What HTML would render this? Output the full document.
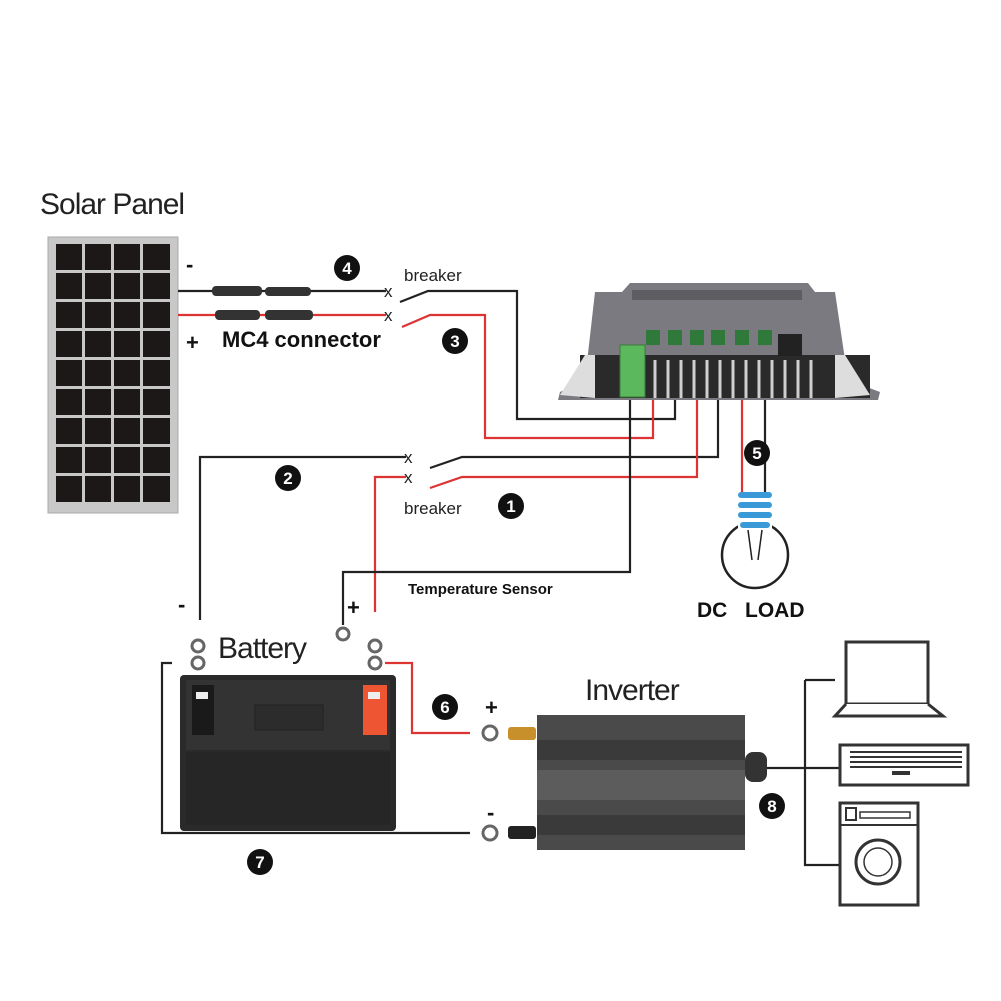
<!DOCTYPE html>
<html><head><meta charset="utf-8"><style>
html,body{margin:0;padding:0;background:#fff;}
svg{display:block;font-family:"Liberation Sans",sans-serif;}
</style></head><body>
<svg width="1001" height="1001" viewBox="0 0 1001 1001" xmlns="http://www.w3.org/2000/svg">
<rect width="1001" height="1001" fill="#fff"/>
<text x="40" y="214" font-size="30" fill="#222" letter-spacing="-1">Solar Panel</text>
<rect x="48" y="237" width="130" height="276" fill="#c8c8c8" stroke="#aaa"/>
<g fill="#1c1818">
<g id="row">
<rect x="56" y="244" width="26" height="26"/><rect x="85" y="244" width="26" height="26"/><rect x="114" y="244" width="26" height="26"/><rect x="143" y="244" width="27" height="26"/>
</g>
<use href="#row" y="29"/><use href="#row" y="58"/><use href="#row" y="87"/><use href="#row" y="116"/><use href="#row" y="145"/><use href="#row" y="174"/><use href="#row" y="203"/><use href="#row" y="232"/>
</g>
<text x="186" y="272" font-size="22" font-weight="bold" fill="#111">-</text>
<text x="186" y="350" font-size="22" font-weight="bold" fill="#111">+</text>
<text x="222" y="347" font-size="22" font-weight="bold" fill="#111">MC4 connector</text>
<g fill="none" stroke-width="2.2">
<path d="M178 291 H386" stroke="#222"/>
<path d="M178 315 H386" stroke="#d33"/>
<path d="M400 302 L428 291 H517 V419 H675 V340" stroke="#222"/>
<path d="M402 327 L430 315 H485 V438 H653 V340" stroke="#d33"/>
<path d="M200 620 V457 H406" stroke="#222"/>
<path d="M375 612 V477 H406" stroke="#d33"/>
<path d="M430 468 L462 457 H718 V340" stroke="#222"/>
<path d="M430 488 L462 477 H697 V340" stroke="#d33"/>
<path d="M630 392 V572 H343 V625" stroke="#222"/>
<path d="M742 340 V495" stroke="#d33"/>
<path d="M765 340 V495" stroke="#222"/>
</g>
<g fill="#333">
<rect x="212" y="286" width="50" height="10" rx="4"/><rect x="265" y="287" width="46" height="9" rx="4"/>
<rect x="215" y="310" width="45" height="10" rx="4"/><rect x="265" y="310" width="48" height="10" rx="4"/>
</g>
<g font-size="17" fill="#222"><text x="384" y="297">x</text><text x="384" y="321">x</text><text x="404" y="463">x</text><text x="404" y="483">x</text></g>
<text x="404" y="281" font-size="17" fill="#222">breaker</text>
<text x="404" y="514" font-size="17" fill="#222">breaker</text>
<g font-size="17" font-weight="bold" fill="#fff" text-anchor="middle">
<circle cx="347" cy="268" r="13" fill="#111"/><text x="347" y="274">4</text>
<circle cx="455" cy="341" r="13" fill="#111"/><text x="455" y="347">3</text>
<circle cx="288" cy="478" r="13" fill="#111"/><text x="288" y="484">2</text>
<circle cx="511" cy="506" r="13" fill="#111"/><text x="511" y="512">1</text>
<circle cx="757" cy="453" r="13" fill="#111"/><text x="757" y="459">5</text>
<circle cx="445" cy="707" r="13" fill="#111"/><text x="445" y="713">6</text>
<circle cx="260" cy="862" r="13" fill="#111"/><text x="260" y="868">7</text>
<circle cx="772" cy="806" r="13" fill="#111"/><text x="772" y="812">8</text>
</g>
<path d="M630 283 H808 L815 292 H835 L848 380 L880 392 L878 400 H558 L560 392 L585 380 L595 292 H622 Z" fill="#7a7a80"/>
<rect x="632" y="290" width="170" height="10" fill="#5e5e62"/>
<rect x="580" y="355" width="290" height="43" fill="#2a2a2a"/>
<g stroke="#cfcfcf" stroke-width="3">
<path d="M655 360V398M668 360V398M681 360V398M694 360V398M707 360V398M720 360V398M733 360V398M746 360V398M759 360V398M772 360V398M785 360V398M798 360V398M811 360V398"/>
</g>
<path d="M560 395 L585 355 H595 V398 Z M870 395 L845 355 H835 V398 Z" fill="#ddd"/>
<g fill="#2f7a3a">
<rect x="646" y="330" width="14" height="15"/><rect x="668" y="330" width="14" height="15"/><rect x="690" y="330" width="14" height="15"/><rect x="711" y="330" width="14" height="15"/><rect x="735" y="330" width="14" height="15"/><rect x="758" y="330" width="14" height="15"/>
</g>
<rect x="778" y="334" width="24" height="22" fill="#222"/>
<rect x="620" y="345" width="25" height="52" fill="#5cb85c" stroke="#3a7a3a"/>
<circle cx="755" cy="555" r="33" fill="#fff" stroke="#222" stroke-width="2.5"/>
<rect x="738" y="492" width="34" height="40" fill="#fff"/>
<g fill="#3a9ad8"><rect x="738" y="492" width="34" height="6" rx="3"/><rect x="738" y="502" width="34" height="6" rx="3"/><rect x="738" y="512" width="34" height="6" rx="3"/><rect x="740" y="522" width="30" height="6" rx="3"/></g>
<path d="M748 530 L752 560 M762 530 L758 560" stroke="#222" stroke-width="1.5" fill="none"/>
<text x="697" y="617" font-size="21" font-weight="bold" fill="#111">DC</text>
<text x="745" y="617" font-size="21" font-weight="bold" fill="#111">LOAD</text>
<text x="408" y="594" font-size="15" font-weight="bold" fill="#111">Temperature Sensor</text>
<text x="178" y="612" font-size="22" font-weight="bold" fill="#111">-</text>
<text x="347" y="615" font-size="22" font-weight="bold" fill="#111">+</text>
<text x="218" y="658" font-size="30" fill="#222" letter-spacing="-1">Battery</text>
<g fill="none" stroke="#666" stroke-width="3">
<circle cx="198" cy="646" r="6"/><circle cx="198" cy="663" r="6"/><circle cx="343" cy="634" r="6"/><circle cx="375" cy="646" r="6"/><circle cx="375" cy="663" r="6"/>
<circle cx="490" cy="733" r="7"/><circle cx="490" cy="833" r="7"/>
</g>
<g fill="none" stroke-width="2.2">
<path d="M172 663 H162 V833 H470" stroke="#222"/>
<path d="M385 663 H412 V733 H470" stroke="#d33"/>
</g>
<rect x="180" y="675" width="216" height="156" rx="4" fill="#2a2a2a"/>
<rect x="186" y="680" width="204" height="70" fill="#333"/>
<rect x="186" y="752" width="204" height="73" fill="#262626"/>
<rect x="192" y="685" width="22" height="50" fill="#1a1a1a"/><rect x="196" y="692" width="12" height="7" fill="#eee"/>
<rect x="363" y="685" width="24" height="50" fill="#e53"/><rect x="368" y="692" width="12" height="7" fill="#eee"/>
<rect x="255" y="705" width="68" height="25" fill="#2c2c2c" stroke="#222"/>
<text x="585" y="700" font-size="30" fill="#222" letter-spacing="-1">Inverter</text>
<text x="485" y="715" font-size="22" font-weight="bold" fill="#111">+</text>
<text x="487" y="820" font-size="22" font-weight="bold" fill="#111">-</text>
<rect x="537" y="715" width="208" height="135" fill="#4a4a4a"/>
<rect x="537" y="740" width="208" height="20" fill="#3a3a3a"/>
<rect x="537" y="770" width="208" height="30" fill="#5c5c5c"/>
<rect x="537" y="815" width="208" height="20" fill="#3a3a3a"/>
<rect x="508" y="727" width="28" height="13" rx="3" fill="#c8902a"/>
<rect x="508" y="826" width="28" height="13" rx="3" fill="#222"/>
<rect x="745" y="752" width="22" height="30" rx="8" fill="#333"/>
<path d="M767 768 H840 M805 680 V865 H840 M805 680 H835" stroke="#222" stroke-width="2.2" fill="none"/>
<rect x="846" y="642" width="82" height="62" fill="#fff" stroke="#333" stroke-width="3"/>
<path d="M846 704 L835 716 H943 L928 704" fill="#fff" stroke="#333" stroke-width="3"/>
<rect x="840" y="745" width="128" height="40" fill="#fff" stroke="#333" stroke-width="3"/>
<g stroke="#333" stroke-width="2"><path d="M850 752H962M850 757H962M850 762H962M850 767H962"/></g>
<rect x="892" y="771" width="18" height="4" fill="#333"/>
<rect x="840" y="803" width="78" height="102" fill="#fff" stroke="#333" stroke-width="3"/>
<path d="M840 825 H918" stroke="#333" stroke-width="2"/>
<rect x="846" y="808" width="10" height="12" fill="none" stroke="#333" stroke-width="2"/>
<rect x="860" y="812" width="50" height="6" fill="none" stroke="#333" stroke-width="1.5"/>
<circle cx="878" cy="862" r="22" fill="none" stroke="#333" stroke-width="3"/>
<circle cx="878" cy="862" r="14" fill="none" stroke="#333" stroke-width="1.5"/>
</svg>
</body></html>
